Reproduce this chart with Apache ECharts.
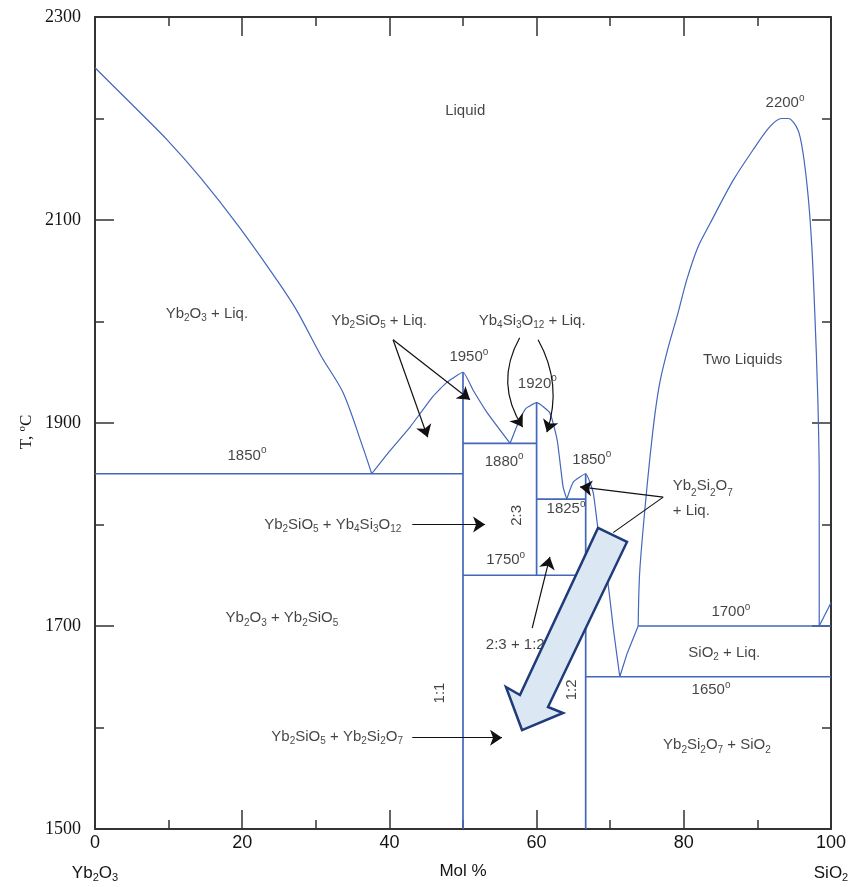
<!DOCTYPE html>
<html><head><meta charset="utf-8">
<script src="https://cdn.jsdelivr.net/npm/echarts@6/dist/echarts.min.js"></script>
<style>html,body{margin:0;padding:0;background:#fff}#c{width:861px;height:887px}</style>
</head><body><div id="c"></div>
<script>
// ---------------- data ----------------
const xTickValues = [0, 20, 40, 60, 80, 100];
const yTickValues = [1500, 1700, 1900, 2100, 2300];

// liquidus / boundary curves  [mol% SiO2, T °C]
const liquidusYb2O3 = [[0,2250],[5,2214],[9.8,2179],[14.3,2142],[19.5,2094],[24.7,2041],[27.4,2011],[30.8,1965],[33.7,1930],[36.4,1876],[37.6,1850]];
const liquidusYb2SiO5 = [[37.6,1850],[40,1872],[42.8,1896],[45.9,1926],[47.8,1940],[50,1950],[51.4,1932],[53.3,1910],[56.4,1880]];
const liquidus23 = [[56.4,1880],[57.5,1900],[58.5,1914],[60,1920],[61.8,1910],[62.8,1883],[63.6,1837],[64.1,1825]];
const liquidus12 = [[64.1,1825],[65,1842],[66.67,1850],[67.7,1831],[68.3,1798],[69.7,1742],[70.4,1699],[71.3,1650]];
const liquidusSiO2 = [[71.3,1650],[72.3,1673],[73.8,1700]];
const miscibilityGap = [[73.8,1700],[74.0,1752],[74.7,1814],[75.4,1866],[76.1,1910],[76.8,1942],[77.9,1975],[79.2,2008],[80.4,2041],[81.9,2073],[83.6,2097],[86.7,2139],[89.4,2169],[91.7,2192],[93.3,2200],[94.2,2200],[95.5,2189],[96.2,2166],[96.9,2123],[97.4,2073],[97.8,2008],[98.2,1926],[98.4,1844],[98.4,1700]];
const liquidusCristobalite = [[98.4,1700],[100,1723]];

// invariant lines and compound lines
const eutectic1850 = [[0,1850],[50,1850]];
const eutectic1880 = [[50,1880],[60,1880]];
const eutectic1825 = [[60,1825],[66.67,1825]];
const decomposition1750 = [[50,1750],[66.67,1750]];
const eutectic1650 = [[66.67,1650],[100,1650]];
const monotectic1700 = [[73.8,1700],[100,1700]];
const compound11 = [[50,1500],[50,1950]];
const compound23 = [[60,1750],[60,1920]];
const compound12 = [[66.67,1500],[66.67,1850]];

// pointer arrows [from, to, curveness]
const pointerArrows = [
  [[40.5,1982],[45.2,1886],0],
  [[40.5,1982],[50.95,1923],0],
  [[57.7,1984],[58.1,1896],-0.3],
  [[60.2,1982],[61.4,1891],0.22],
  [[77.2,1827],[65.9,1837],0],
  [[43.1,1800],[53.0,1800],0],
  [[43.1,1590],[55.3,1590],0],
  [[59.4,1698],[61.8,1768],0]
];
const pointerPlain = [
  [[77.2,1827],[70.4,1792],0]
];

// big highlight arrow outline (data coords)
const bigArrow = [[68.34,1796.6],[72.28,1782.8],[61.55,1620.2],[63.59,1614.3],[58.02,1597.5],[55.84,1639.9],[57.74,1632.0]];

// text labels [x, T, text]
const regionLabels = [
  [50.3, 2208, 'Liquid'],
  [93.75, 2215, '2200^o'],
  [15.2, 2008, 'Yb_2O_3 + Liq.'],
  [38.6, 2001, 'Yb_2SiO_5 + Liq.'],
  [59.4, 2001, 'Yb_4Si_3O_12 + Liq.'],
  [50.8, 1965, '1950^o'],
  [60.1, 1939, '1920^o'],
  [88.0, 1962, 'Two Liquids'],
  [20.65, 1868, '1850^o'],
  [55.6, 1862, '1880^o'],
  [67.5, 1864, '1850^o'],
  [64.0, 1815, '1825^o'],
  [32.3, 1800, 'Yb_2SiO_5 + Yb_4Si_3O_12'],
  [55.8, 1765, '1750^o'],
  [25.4, 1708, 'Yb_2O_3 + Yb_2SiO_5'],
  [85.5, 1674, 'SiO_2 + Liq.'],
  [86.4, 1714, '1700^o'],
  [83.7, 1637, '1650^o'],
  [84.5, 1583, 'Yb_2Si_2O_7 + SiO_2'],
  [32.9, 1591, 'Yb_2SiO_5 + Yb_2Si_2O_7']
];
const leftLabels = [[78.5, 1826, 'Yb_2Si_2O_7\n+ Liq.']];
const verticalLabels = [[57.3, 1809, '2:3'], [46.9, 1634, '1:1'], [64.8, 1637, '1:2']];
const hiddenLabels = [[57.1, 1681, '2:3 + 1:2']];

// ---------------- helpers ----------------
function hasFont(name){
  const c = document.createElement('canvas').getContext('2d');
  c.font = "30px monospace"; const w0 = c.measureText('abcdefghijklmWMiil').width;
  c.font = "30px '" + name + "', monospace"; const w1 = c.measureText('abcdefghijklmWMiil').width;
  return w0 !== w1;
}
const narrow = hasFont('Liberation Sans Narrow');
const SANS = narrow ? "'Liberation Sans Narrow', 'Liberation Sans', sans-serif" : "'Liberation Sans', sans-serif";
const TXT = narrow ? 17 : 15;
const SUB = narrow ? 12 : 10;
const SERIF = "'Liberation Serif', 'DejaVu Serif', serif";
const INK = '#141414';
const BLUE = '#4267bb';

function rich(str, base){
  base = base || 'r';
  let out = '';
  const re = /_(\d+)|\^(o)|(\n)|([^_^\n]+)/g;
  let m;
  while ((m = re.exec(str))){
    if (m[1]) out += '{s|' + m[1] + '}';
    else if (m[2]) out += '{u|o}';
    else if (m[3]) out += '\n';
    else out += '{' + base + '|' + m[4] + '}';
  }
  return out;
}
function richStyles(size, lh){
  const common = {color: INK, textBorderWidth: 0, textShadowBlur: 0};
  return {
    r: Object.assign({fontFamily: SANS, fontSize: size, lineHeight: lh}, common),
    r2: Object.assign({fontFamily: SANS, fontSize: size, lineHeight: 25}, common),
    s: Object.assign({fontFamily: SANS, fontSize: SUB, lineHeight: 6, verticalAlign: 'bottom'}, common),
    u: Object.assign({fontFamily: SANS, fontSize: SUB, lineHeight: 8, verticalAlign: 'top'}, common)
  };
}

function lineSeries(d, w, smooth){
  return {type:'line', data:d, showSymbol:false, symbol:'none', smooth: smooth || false,
    lineStyle:{color:BLUE, width:w}, silent:true, z:2, animation:false};
}
function labelSeries(arr, opts, z){
  return {
    type:'scatter', symbolSize:0, silent:true, z:z, animation:false,
    itemStyle:{color:'transparent'},
    data: arr.map(a => ({value:[a[0], a[1]]})),
    label: Object.assign({show:true, position:'inside', color:INK, textBorderWidth:0,
      textBorderColor:'transparent', rich: richStyles(TXT, 20),
      formatter: p => rich(arr[p.dataIndex][2], opts && opts.base)}, opts && opts.label)
  };
}

// ---------------- chart ----------------
const chart = echarts.init(document.getElementById('c'), null, {renderer:'canvas'});

const axisLineStyle = {color:'#333', width:2};
const tickStyle = {color:'#333', width:1.5};

const xLabelRich = {
  n: {fontFamily:SANS, fontSize:18, color:INK, lineHeight:20},
  g: {fontSize:4, lineHeight:10},
  r: {fontFamily:SANS, fontSize:17, color:INK, lineHeight:20},
  s: {fontFamily:SANS, fontSize:11, color:INK, lineHeight:6, verticalAlign:'bottom'}
};

const option = {
  animation:false,
  backgroundColor:'#fff',
  grid:{left:95, right:30, top:17, bottom:58, containLabel:false, outerBoundsMode:'none'},
  xAxis:[
    {type:'value', min:0, max:100, interval:20, position:'bottom',
     axisLine:{show:true, onZero:false, lineStyle:axisLineStyle},
     axisTick:{show:true, inside:true, length:19, lineStyle:tickStyle},
     minorTick:{show:true, splitNumber:2, length:9, lineStyle:tickStyle},
     splitLine:{show:false},
     axisLabel:{margin:4, rich:xLabelRich, formatter: v => {
       if (xTickValues.indexOf(v) < 0) return '';
       if (v === 0) return '{n|0}\n{g| }\n' + rich('Yb_2O_3');
       if (v === 100) return '{n|100}\n{g| }\n' + rich('SiO_2');
       return '{n|' + v + '}';
     }},
     name:'Mol %', nameLocation:'middle', nameGap:34, nameMoveOverlap:false,
     nameTextStyle:{fontFamily:SANS, fontSize:17, color:INK}},
    {type:'value', min:0, max:100, interval:20, position:'top',
     axisLine:{show:true, onZero:false, lineStyle:axisLineStyle},
     axisTick:{show:true, inside:true, length:19, lineStyle:tickStyle},
     minorTick:{show:true, splitNumber:2, length:9, lineStyle:tickStyle},
     splitLine:{show:false}, axisLabel:{show:false}}
  ],
  yAxis:[
    {type:'value', min:1500, max:2300, interval:200, position:'left',
     axisLine:{show:true, onZero:false, lineStyle:axisLineStyle},
     axisTick:{show:true, inside:true, length:19, lineStyle:tickStyle},
     minorTick:{show:true, splitNumber:2, length:9, lineStyle:tickStyle},
     splitLine:{show:false},
     axisLabel:{margin:14, fontFamily:SERIF, fontSize:18, color:INK,
       formatter: v => yTickValues.indexOf(v) >= 0 ? String(v) : ''},
     name:'{a|T, }{u|o}{a|C}', nameLocation:'middle', nameGap:58, nameRotate:90, nameMoveOverlap:false,
     nameTextStyle:{padding:[0,0,0,-18], rich:{
       a:{fontFamily:SERIF, fontSize:17, color:INK, lineHeight:20},
       u:{fontFamily:SERIF, fontSize:11, color:INK, lineHeight:8, verticalAlign:'top'}}}},
    {type:'value', min:1500, max:2300, interval:200, position:'right',
     axisLine:{show:true, onZero:false, lineStyle:axisLineStyle},
     axisTick:{show:true, inside:true, length:19, lineStyle:tickStyle},
     minorTick:{show:true, splitNumber:2, length:9, lineStyle:tickStyle},
     splitLine:{show:false}, axisLabel:{show:false}}
  ],
  series: [
    lineSeries(liquidusYb2O3, 1.2, 0.3),
    lineSeries(liquidusYb2SiO5, 1.2, 0.15),
    lineSeries(liquidus23, 1.2, 0.15),
    lineSeries(liquidus12, 1.2, 0.15),
    lineSeries(liquidusSiO2, 1.2),
    lineSeries(miscibilityGap, 1.2, 0.3),
    lineSeries(liquidusCristobalite, 1.2),
    lineSeries(eutectic1850, 1.7),
    lineSeries(eutectic1880, 1.7),
    lineSeries(eutectic1825, 1.7),
    lineSeries(decomposition1750, 1.7),
    lineSeries(eutectic1650, 1.7),
    lineSeries(monotectic1700, 1.7),
    lineSeries(compound11, 1.7),
    lineSeries(compound23, 1.7),
    lineSeries(compound12, 1.7),
    {type:'lines', coordinateSystem:'cartesian2d', silent:true, z:3, animation:false,
     symbol:['none','arrow'], symbolSize:[7,12],
     lineStyle:{color:'#111', width:1.2, opacity:1},
     data: pointerArrows.map(a => ({coords:[a[0], a[1]], lineStyle:{curveness:a[2]}}))},
    {type:'lines', coordinateSystem:'cartesian2d', silent:true, z:3, animation:false,
     symbol:['none','none'],
     lineStyle:{color:'#111', width:1.1, opacity:1},
     data: pointerPlain.map(a => ({coords:[a[0], a[1]], lineStyle:{curveness:a[2]}}))},
    labelSeries(hiddenLabels, null, 4),
    {type:'custom', coordinateSystem:'cartesian2d', silent:true, z:5, animation:false,
     data:[0],
     renderItem:(params, api) => ({
       type:'polygon',
       shape:{points: bigArrow.map(p => api.coord(p))},
       style:{fill:'#dce7f4', stroke:'#1f3b7a', lineWidth:2.5, lineJoin:'miter'}
     })},
    labelSeries(regionLabels, null, 6),
    labelSeries(leftLabels, {base:'r2', label:{position:'right', distance:0, align:'left'}}, 6),
    labelSeries(verticalLabels, {label:{rotate:90}}, 6)
  ]
};
chart.setOption(option);
</script></body></html>
